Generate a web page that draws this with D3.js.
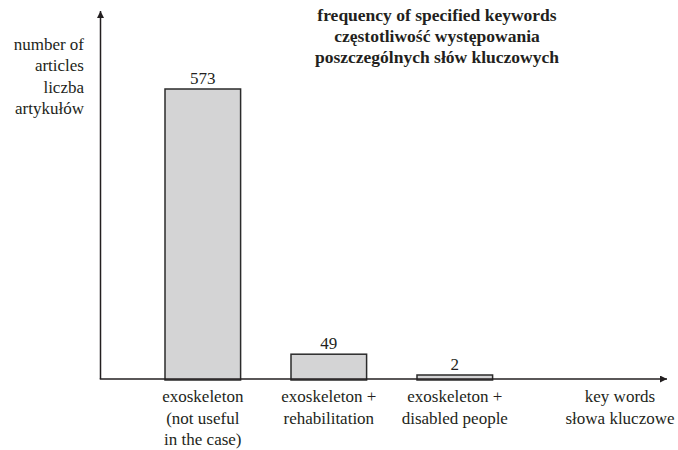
<!DOCTYPE html>
<html lang="pl">
<head>
<meta charset="utf-8">
<script src="https://cdn.jsdelivr.net/npm/d3@7"></script>
<style>
  html, body { margin: 0; padding: 0; background: #fff; }
  svg { display: block; }
</style>
</head>
<body>
<svg id="chart" width="678" height="450"></svg>
<script>
const categories = [
  ["exoskeleton", "(not useful", "in the case)"],
  ["exoskeleton +", "rehabilitation"],
  ["exoskeleton +", "disabled people"]
];
const values = [573, 49, 2];
const titleLines = ["frequency of specified keywords", "częstotliwość występowania", "poszczególnych słów kluczowych"];
const yLabelLines = ["number of", "articles", "liczba", "artykułów"];
const xLabelLines = ["key words", "słowa kluczowe"];

const FONT = "'Liberation Serif', Tinos, 'Times New Roman', serif";
const svg = d3.select("#chart");
const ink = "#231f20";
const x0 = 100.5, yBase = 379;

const x = d3.scaleBand()
  .domain(d3.range(categories.length))
  .range([139.8, 517.8])
  .paddingInner(0.4)
  .paddingOuter(0.2);

const y = d3.scaleLinear()
  .domain([0, d3.max(values)])
  .range([yBase, 89]);

function txt(sel) {
  return sel.attr("font-family", FONT).attr("font-weight", "normal").attr("fill", ink);
}

// bars
svg.selectAll("rect.bar")
  .data(values)
  .join("rect")
  .attr("class", "bar")
  .attr("x", (d, i) => x(i))
  .attr("y", d => Math.min(y(d), yBase - 4))
  .attr("width", x.bandwidth())
  .attr("height", d => Math.max(yBase - y(d), 4) + 1)
  .attr("fill", "#d4d4d5")
  .attr("stroke", "#2b2b2b")
  .attr("stroke-width", 1.5);

// value labels
txt(svg.selectAll("text.val")
  .data(values)
  .join("text")
  .attr("class", "val")
  .attr("x", (d, i) => x(i) + x.bandwidth() / 2)
  .attr("y", d => Math.min(y(d), yBase - 4) - 5)
  .attr("text-anchor", "middle")
  .attr("font-size", 17)
  .text(d => d));

// axes
svg.append("defs").append("marker")
  .attr("id", "arrow")
  .attr("viewBox", "0 0 10 10")
  .attr("refX", 10).attr("refY", 5)
  .attr("markerWidth", 8).attr("markerHeight", 7)
  .attr("markerUnits", "userSpaceOnUse")
  .attr("orient", "auto")
  .append("path")
  .attr("d", "M0,0 L10,5 L0,10 Z")
  .attr("fill", ink);

svg.append("line")
  .attr("x1", x0).attr("y1", yBase)
  .attr("x2", x0).attr("y2", 11)
  .attr("stroke", ink).attr("stroke-width", 1.5)
  .attr("marker-end", "url(#arrow)");

svg.append("line")
  .attr("x1", x0 - 0.75).attr("y1", yBase)
  .attr("x2", 667).attr("y2", yBase)
  .attr("stroke", ink).attr("stroke-width", 1.5)
  .attr("marker-end", "url(#arrow)");

// category labels
categories.forEach((lines, i) => {
  lines.forEach((l, j) => {
    txt(svg.append("text"))
      .attr("x", x(i) + x.bandwidth() / 2)
      .attr("y", 402 + j * 21.5)
      .attr("text-anchor", "middle")
      .attr("font-size", 17)
      .text(l);
  });
});

// x axis label
xLabelLines.forEach((l, j) => {
  txt(svg.append("text"))
    .attr("x", 620).attr("y", 402 + j * 21.5)
    .attr("text-anchor", "middle")
    .attr("font-size", 17)
    .text(l);
});

// y axis label
yLabelLines.forEach((l, j) => {
  txt(svg.append("text"))
    .attr("x", 84).attr("y", 50 + j * 21.3)
    .attr("text-anchor", "end")
    .attr("font-size", 17)
    .text(l);
});

// title
titleLines.forEach((l, j) => {
  txt(svg.append("text"))
    .attr("x", 437).attr("y", 21 + j * 21)
    .attr("text-anchor", "middle")
    .attr("font-size", 17.5)
    .attr("font-weight", "bold")
    .text(l);
});
</script>
</body>
</html>
